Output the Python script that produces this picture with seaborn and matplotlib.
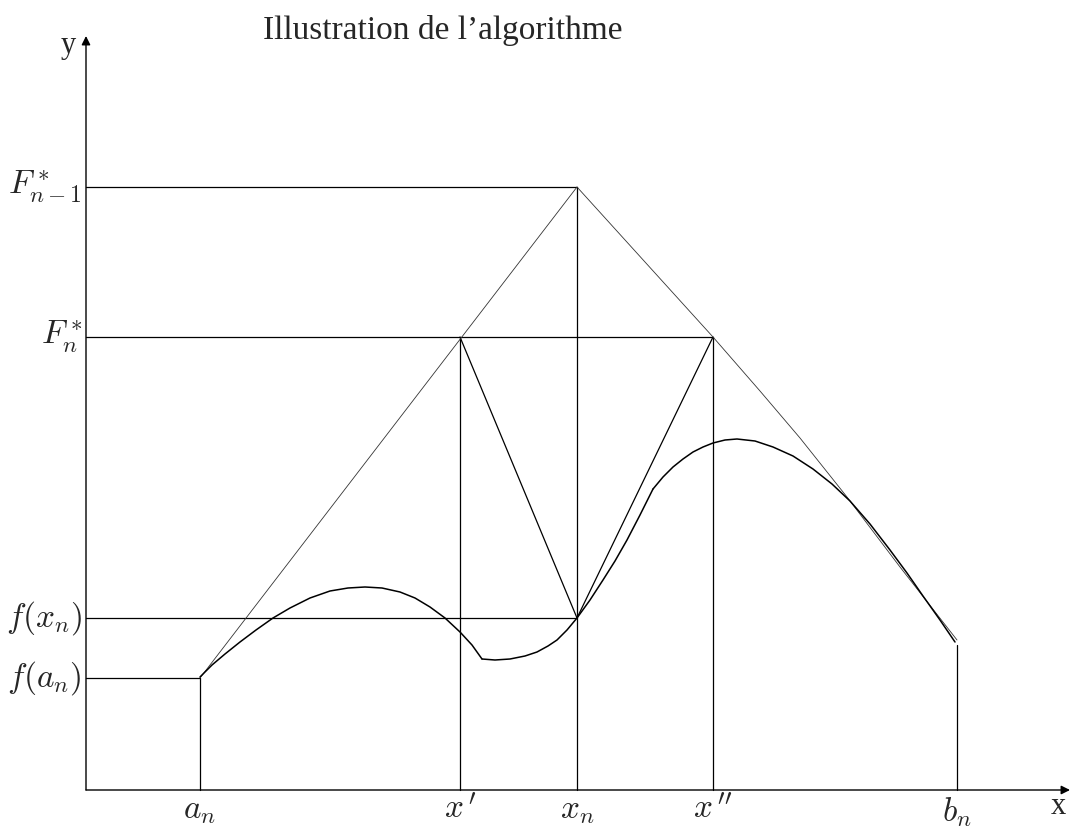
import numpy as np
import pandas as pd
import seaborn as sns
import matplotlib.pyplot as plt

# abscissas / ordinates of the construction (origin at the axes corner)
x_ticks = [114, 374, 491, 627, 871]
x_labels = [r"$a_n$", r"$x^{\,\prime}$", r"$x_n$", r"$x^{\,\prime\prime}$", r"$b_n$"]
y_ticks = [603, 453, 172, 112]
y_labels = [r"$F^*_{n-1}$", r"$F^*_n$", r"$f(x_n)$", r"$f(a_n)$"]

f1_x = [114, 126, 139, 154, 170, 187, 204, 224, 244, 262, 279, 296, 314, 329, 344, 359, 374, 386, 396]
f1_y = [113, 125, 136, 148, 160, 172, 182, 192, 199, 202, 203, 202, 198, 192, 183, 172, 158, 145, 131]
f2_x = [396, 409, 424, 439, 451, 462, 471, 481, 491, 504, 517, 529, 541, 554, 567]
f2_y = [131, 130, 131, 134, 138, 144, 150, 160, 172, 190, 210, 229, 250, 275, 301]
f3_x = [567, 577, 587, 597, 607, 617, 627, 639, 651, 669, 687, 707, 727, 746,
        764, 784, 804, 821, 837, 854, 869]
f3_y = [301, 313, 323, 331, 338, 343, 347, 350, 351, 349, 343, 334, 321, 306,
        289, 266, 240, 217, 194, 170, 148]

# upper envelope: left slope and (slightly bent) right slope
left_x = [114, 491]
left_y = [112, 603]
right_x = [491, 627, 674, 714, 761, 814, 871]
right_y = [603, 453, 399, 352, 293, 223, 150]
f_bn = 145

sns.set_theme(style="white")
plt.rcParams["mathtext.fontset"] = "cm"
plt.rcParams["font.family"] = ["Liberation Serif", "DejaVu Serif"]

fig = plt.figure(figsize=(10.72, 8.30), dpi=100)
ax = fig.add_axes([0, 0, 1, 1])
ax.set_xlim(-86, 986)
ax.set_ylim(-40, 790)
ax.axis("off")

a_n, xp, x_n, xpp, b_n = x_ticks
F1, F2, fx, fa = y_ticks

# construction lines
segs = [
    ([0, x_n], [F1, F1]),
    ([0, xpp], [F2, F2]),
    ([0, x_n], [fx, fx]),
    ([0, a_n], [fa, fa]),
    ([a_n, a_n], [0, fa]),
    ([xp, xp], [0, F2]),
    ([x_n, x_n], [0, F1]),
    ([xpp, xpp], [0, F2]),
    ([b_n, b_n], [0, f_bn]),
    ([xp, x_n], [F2, fx]),
    ([xpp, x_n], [F2, fx]),
]
rows = []
for i, (xs, ys) in enumerate(segs):
    for xv, yv in zip(xs, ys):
        rows.append({"x": xv, "y": yv, "seg": i})
lines = pd.DataFrame(rows)
sns.lineplot(data=lines, x="x", y="y", units="seg", estimator=None, sort=False,
             color="black", linewidth=0.9, ax=ax)

# the two slopes meeting at the top
for sx, sy in [(left_x, left_y), (right_x, right_y)]:
    sns.lineplot(x=sx, y=sy, sort=False, estimator=None,
                 color="#333333", linewidth=0.6, ax=ax)

# the function
for fx_, fy_ in [(f1_x, f1_y), (f2_x, f2_y), (f3_x, f3_y)]:
    sns.lineplot(x=fx_, y=fy_, sort=False, estimator=None, color="black",
                 linewidth=1.1, ax=ax)

# axes with arrows
arrow = dict(arrowstyle="-|>", color="black", lw=1.0, mutation_scale=13,
             shrinkA=0, shrinkB=0)
ax.annotate("", xy=(0, 754), xytext=(0, 0), arrowprops=arrow)
ax.annotate("", xy=(984, 0), xytext=(0, 0), arrowprops=arrow)
ax.text(-18, 744, "y", fontsize=22, ha="center", va="center")
ax.text(972, -16, "x", fontsize=22, ha="center", va="center")

for xv, lab in zip(x_ticks, x_labels):
    ax.text(xv, -5, lab, fontsize=24, ha="center", va="top")
for yv, lab in zip(y_ticks, y_labels):
    ax.text(-4, yv, lab, fontsize=24, ha="right", va="center")

ax.text(357, 760, "Illustration de l\u2019algorithme", fontsize=24, ha="center", va="center")

fig.savefig("out.png", dpi=100)
